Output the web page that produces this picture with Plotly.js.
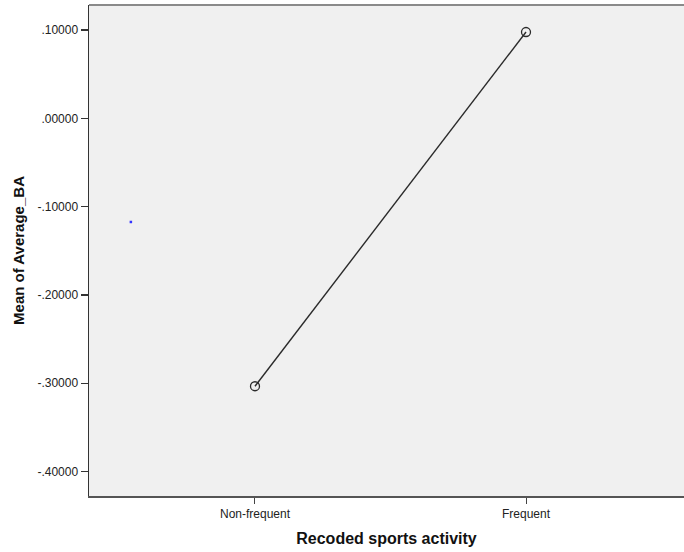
<!DOCTYPE html>
<html>
<head>
<meta charset="utf-8">
<script src="https://cdn.plot.ly/plotly-3.0.1.min.js"></script>
<style>html,body{margin:0;padding:0;background:#fff;}#chart{width:684px;height:552px;}</style>
</head>
<body>
<div id="chart"></div>
<script>
var categories = ["Non-frequent", "Frequent"];
var categoryPos = [0, 1];
var means = [-0.3034, 0.0977];
var yTickVals = [0.1, 0, -0.1, -0.2, -0.3, -0.4];
var yTickText = [".10000", ".00000", "-.10000", "-.20000", "-.30000", "-.40000"];
var strayX = [-0.458];
var strayY = [-0.1174];

var traces = [
  {
    x: categoryPos, y: means, type: "scatter", mode: "lines+markers",
    line: {color: "#2a2a2a", width: 1.4},
    marker: {symbol: "circle-open", size: 9, color: "#2a2a2a", line: {width: 1.3, color: "#2a2a2a"}},
    hoverinfo: "skip", showlegend: false
  },
  {
    x: strayX, y: strayY, type: "scatter", mode: "markers",
    marker: {symbol: "square", size: 2.5, color: "#3333ff"},
    hoverinfo: "skip", showlegend: false
  }
];

var layout = {
  width: 684, height: 552,
  margin: {l: 89, r: 0, t: 5, b: 56},
  paper_bgcolor: "#ffffff",
  plot_bgcolor: "#f0f0f0",
  font: {family: "Arial, 'Liberation Sans', sans-serif", size: 12, color: "#222"},
  xaxis: {
    range: [-0.6125, 1.583],
    tickvals: categoryPos, ticktext: categories,
    ticks: "outside", ticklen: 6, tickwidth: 1, tickcolor: "#444",
    showgrid: false, zeroline: false,
    showline: true, linecolor: "#555", linewidth: 2,
    tickfont: {size: 12, color: "#222"},
    title: {text: "Recoded sports activity", font: {size: 16, color: "#111", weight: "bold"}, standoff: 12}
  },
  yaxis: {
    range: [-0.4277, 0.1283],
    tickvals: yTickVals, ticktext: yTickText,
    ticks: "outside", ticklen: 7, tickwidth: 1.3, tickcolor: "#333",
    showgrid: false, zeroline: false,
    showline: true, linecolor: "#333", linewidth: 1.5,
    tickfont: {size: 12, color: "#222"},
    title: {text: "Mean of Average_BA", font: {size: 15, color: "#111", weight: "bold"}, standoff: 9}
  },
  shapes: [
    {type: "line", xref: "paper", yref: "paper", x0: 0, x1: 1, y0: 1, y1: 1,
     line: {color: "#8a8a8a", width: 2}}
  ]
};

Plotly.newPlot("chart", traces, layout, {displayModeBar: false, staticPlot: true});
</script>
</body>
</html>
